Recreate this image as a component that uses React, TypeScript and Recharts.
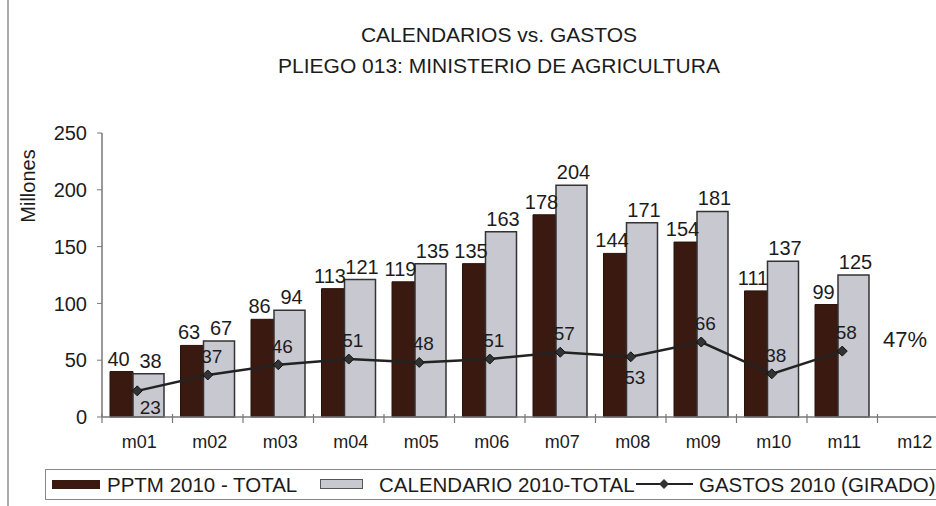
import React from 'react';
import { ComposedChart, Bar, Line, XAxis, YAxis, LabelList } from 'recharts';

const months = ['m01', 'm02', 'm03', 'm04', 'm05', 'm06', 'm07', 'm08', 'm09', 'm10', 'm11', 'm12'];
const pptm = [40, 63, 86, 113, 119, 135, 178, 144, 154, 111, 99, null];
const calendario = [38, 67, 94, 121, 135, 163, 204, 171, 181, 137, 125, null];
const gastos = [23, 37, 46, 51, 48, 51, 57, 53, 66, 38, 58, null];
const yTicks = [0, 50, 100, 150, 200, 250];

const data = months.map((m, i) => ({
  name: m,
  pptm: pptm[i],
  calendario: calendario[i],
  gastos: gastos[i],
}));

const FONT = 'Arial, "Liberation Sans", sans-serif';
const INK = '#1c1c1c';
const CHART_W = 956;
const MARGIN = { top: 133, right: 8, left: 62, bottom: 59 };
const Y_W = 40;
const band = (CHART_W - MARGIN.left - MARGIN.right - Y_W) / months.length;

const XTick = (props: any) => {
  const { x, y, payload } = props;
  return (
    <g>
      <line x1={x - band / 2} x2={x - band / 2} y1={y - 5} y2={y + 4} stroke="#777" strokeWidth={1.2} />
      <text x={x + 2} y={y + 29} textAnchor="middle" fontSize={18} fill={INK} fontFamily={FONT}>
        {payload.value}
      </text>
    </g>
  );
};

const Diamond = (props: any) => {
  const { cx, cy, value } = props;
  if (value == null || cx == null) return null;
  return <path d={`M${cx},${cy - 5}L${cx + 5},${cy}L${cx},${cy + 5}L${cx - 5},${cy}Z`} fill="#333" stroke="#111" />;
};

// bar value label, nudged sideways so neighbouring numbers don't touch
const barLabel = (shift: number) => (props: any) => {
  const { x, y, width, value } = props;
  if (value == null) return null;
  return (
    <text x={x + width / 2 + shift} y={y - 6} textAnchor="middle" fontSize={20} fill={INK} fontFamily={FONT}>
      {value}
    </text>
  );
};

const GastosLabel = (props: any) => {
  const { x, y, value, index } = props;
  if (value == null) return null;
  let dx = 4;
  let dy = -12;
  if (index === 0) {
    dx = 13;
    dy = 23;
  } else if (index === 7) {
    dx = 4;
    dy = 27;
  }
  return (
    <text x={x + dx} y={y + dy} textAnchor="middle" fontSize={19} fill={INK} fontFamily={FONT}>
      {value}
    </text>
  );
};

export default function App() {
  return (
    <div style={{ position: 'relative', width: 936, height: 506, overflow: 'hidden', background: '#fff', fontFamily: FONT, color: INK }}>
      <style>{`body{margin:0;overflow:hidden}`}</style>
      <div style={{ position: 'absolute', left: 7, top: 0, width: 2, height: 506, background: '#aaa' }} />
      <div style={{ position: 'absolute', left: 0, top: 19, width: 998, textAlign: 'center', fontSize: 21, lineHeight: '31px' }}>
        CALENDARIOS vs. GASTOS
        <br />
        PLIEGO 013: MINISTERIO DE AGRICULTURA
      </div>
      <div
        style={{
          position: 'absolute',
          left: 28,
          top: 186,
          transform: 'translate(-50%, -50%) rotate(-90deg)',
          fontSize: 20,
          whiteSpace: 'nowrap',
        }}
      >
        Millones
      </div>
      <div style={{ position: 'absolute', left: 0, top: 0 }}>
        <ComposedChart width={CHART_W} height={506} data={data} margin={MARGIN} barGap={0}>
          <XAxis
            dataKey="name"
            height={30}
            tick={<XTick />}
            tickLine={false}
            tickSize={0}
            axisLine={{ stroke: '#777', strokeWidth: 1.5 }}
            interval={0}
          />
          <YAxis
            width={Y_W}
            domain={[0, 250]}
            ticks={yTicks}
            tickSize={5}
            tickMargin={10}
            tick={{ fontSize: 20, fill: INK, fontFamily: FONT }}
            tickLine={{ stroke: '#777' }}
            axisLine={{ stroke: '#777', strokeWidth: 1.5 }}
          />
          <Bar dataKey="pptm" barSize={23} fill="#3a1a10" stroke="#2a120a" isAnimationActive={false}>
            <LabelList dataKey="pptm" content={barLabel(-3)} />
          </Bar>
          <Bar dataKey="calendario" barSize={31} fill="#c8c8d0" stroke="#333" strokeWidth={1.5} isAnimationActive={false}>
            <LabelList dataKey="calendario" content={barLabel(2)} />
          </Bar>
          <Line
            dataKey="gastos"
            stroke="#222"
            strokeWidth={2.5}
            dot={<Diamond />}
            isAnimationActive={false}
            connectNulls={false}
          >
            <LabelList dataKey="gastos" content={<GastosLabel />} />
          </Line>
        </ComposedChart>
      </div>
      <div style={{ position: 'absolute', left: 883, top: 327, fontSize: 22 }}>47%</div>
      <div
        style={{
          position: 'absolute',
          left: 45,
          top: 469,
          width: 920,
          height: 31,
          border: '1.5px solid #888',
          boxSizing: 'border-box',
          fontSize: 20.5,
          whiteSpace: 'nowrap',
        }}
      >
        <span style={{ position: 'absolute', left: 6, top: 10, width: 48, height: 9, background: '#3a1a10' }} />
        <span style={{ position: 'absolute', left: 61, top: 3, lineHeight: '23px' }}>PPTM 2010 - TOTAL</span>
        <span
          style={{
            position: 'absolute',
            left: 274,
            top: 9,
            width: 43,
            height: 10,
            background: '#c8c8d0',
            border: '1.5px solid #555',
            boxSizing: 'border-box',
          }}
        />
        <span style={{ position: 'absolute', left: 333, top: 3, lineHeight: '23px' }}>CALENDARIO 2010-TOTAL</span>
        <svg width={57} height={14} style={{ position: 'absolute', left: 590, top: 7 }}>
          <line x1={0} x2={57} y1={7} y2={7} stroke="#222" strokeWidth={2} />
          <path d="M28,2L33,7L28,12L23,7Z" fill="#333" />
        </svg>
        <span style={{ position: 'absolute', left: 653, top: 3, lineHeight: '23px' }}>GASTOS 2010 (GIRADO)</span>
      </div>
    </div>
  );
}
